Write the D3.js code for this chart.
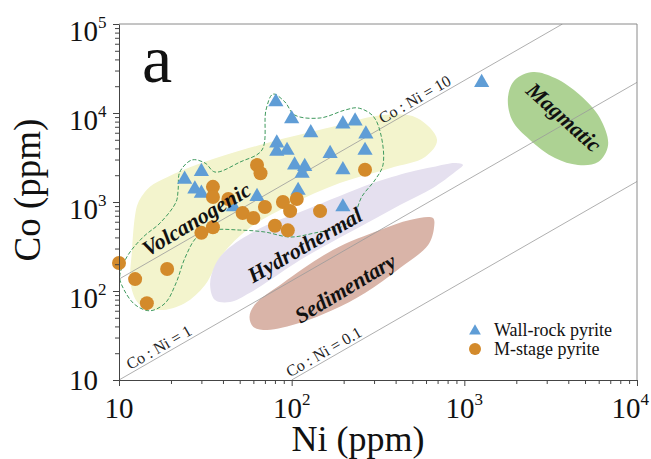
<!DOCTYPE html>
<html>
<head>
<meta charset="utf-8">
<script src="https://cdnjs.cloudflare.com/ajax/libs/d3/7.8.5/d3.min.js"></script>
<style>
  body { margin: 0; background: #fff; }
  svg { display: block; font-family: "Liberation Serif", "Times New Roman", serif; }
</style>
</head>
<body>
<svg id="chart" width="651" height="459"></svg>
<script>
// all values are [Ni, Co] in ppm
const wallRockPyrite = [
  [81, 13300], [100, 8600], [129, 6000], [198, 7500], [233, 8100], [269, 5800],
  [82, 4600], [82, 3700], [94, 3800], [167, 3500], [266, 3800], [104, 2600],
  [119, 2500], [115, 2100], [198, 2300], [24, 1800], [30, 2200], [27.5, 1400],
  [30, 1250], [63, 1150], [46, 880], [109, 1350], [198, 880], [1260, 22000]
];

const mStagePyrite = [
  [63, 2600], [66, 2100], [35, 1480], [35, 1140], [43, 1080], [52, 750],
  [60, 660], [70, 880], [89, 1000], [107, 1080], [98, 790], [80, 540],
  [95, 480], [30, 450], [35, 520], [10, 206], [12.4, 136], [19, 177],
  [14.5, 73], [146, 790], [266, 2300]
];

// outlines of the genetic fields
const volcanogenicField = [
  [12.4, 714], [12.9, 975], [15.1, 1480], [19, 1900], [29.4, 2700], [72, 4600],
  [173, 7000], [338, 9500], [532, 8800], [695, 5000], [592, 3200], [371, 2400],
  [190, 1630], [98, 925], [57, 510], [39.5, 254], [31.5, 117], [24, 73],
  [17.3, 61], [13.2, 70], [11.7, 117], [11.9, 290]
];
const hydrothermalField = [
  [33.7, 117], [36, 196], [42, 289], [66, 510], [112, 773], [190, 1170],
  [296, 1630], [484, 2170], [658, 2470], [883, 2740], [982, 2610], [883, 2170],
  [658, 1440], [424, 925], [273, 580], [167, 346], [112, 223], [75, 133],
  [57, 95], [44, 75], [36, 79]
];
const sedimentaryField = [
  [57, 51], [61, 70], [89, 123], [173, 289], [325, 484], [484, 628], [658, 661],
  [667, 511], [617, 329], [424, 181], [266, 95], [173, 61], [112, 44],
  [72, 36.5], [60, 39.5]
];
const magmaticField = [
  [1790, 15100], [1960, 23500], [2500, 28900], [3350, 24700], [4670, 15900],
  [6100, 8800], [6800, 4370], [5950, 2810], [4550, 2610], [3350, 3120],
  [2400, 4980], [1890, 8340]
];
// dashed envelope round the wall-rock and M-stage data
const dataEnvelope = [
  [22, 1365], [22.5, 2170], [26.5, 2970], [31.5, 2740], [36, 2170], [50.2, 2810],
  [67.3, 3840], [71, 10800], [78, 16300], [91.4, 13300], [104, 9500], [146, 8790],
  [204, 10800], [242, 11400], [296, 9250], [329, 5660], [338, 2610], [304, 1770],
  [255, 1150], [232, 740], [200, 540], [136, 449], [98, 404], [70, 460],
  [50, 484], [35, 484], [28.3, 404], [24.1, 235], [21.4, 123], [18.5, 73],
  [15.1, 60], [12.4, 70], [10.7, 103], [10.1, 144], [11.1, 241], [13.8, 404],
  [17.3, 581], [21.4, 1000]
];

const fieldNames = ['Volcanogenic', 'Hydrothermal', 'Sedimentary', 'Magmatic'];
const fieldLabelAt = [[28, 645], [119, 330], [204, 108], [3780, 9000]];

const ratioNames = ['Co : Ni = 10', 'Co : Ni = 1', 'Co : Ni = 0.1'];
const ratioLines = [
  [[10, 136], [3700, 100000]],
  [[10, 10], [10000, 22100]],
  [[100, 10], [10000, 1700]]
];
const ratioLabelNi = [546, 18, 162];

const xTickValues = [10, 100, 1000, 10000];
const yTickValues = [10, 100, 1000, 10000, 100000];

const margin = { top: 24, right: 14, bottom: 79, left: 119 };
const width = 651 - margin.left - margin.right;
const height = 459 - margin.top - margin.bottom;

const svg = d3.select('#chart');
const g = svg.append('g').attr('transform', 'translate(' + margin.left + ',' + margin.top + ')');

const x = d3.scaleLog().domain([10, 10000]).range([0, width]);
const y = d3.scaleLog().domain([10, 100000]).range([height, 0]);

svg.append('defs').append('clipPath').attr('id', 'plotClip')
  .append('rect').attr('width', width).attr('height', height);

const blob = d3.line()
  .x(d => x(d[0]))
  .y(d => y(d[1]))
  .curve(d3.curveCatmullRomClosed.alpha(0.5));

// fields
const fieldData = [volcanogenicField, hydrothermalField, sedimentaryField, magmaticField];
const fieldColors = ['#f3f4cd', '#e5e0ef', '#d9b4a8', '#add293'];
g.selectAll('path.field')
  .data(fieldData)
  .enter().append('path')
  .attr('class', 'field')
  .attr('d', blob)
  .attr('fill', (d, i) => fieldColors[i]);

// ratio lines
const lineGen = d3.line().x(d => x(d[0])).y(d => y(d[1]));
g.append('g').attr('clip-path', 'url(#plotClip)')
  .selectAll('path')
  .data(ratioLines)
  .enter().append('path')
  .attr('d', lineGen)
  .attr('fill', 'none')
  .attr('stroke', '#9a9a9a')
  .attr('stroke-width', 0.8);

ratioLines.forEach((pts, i) => {
  const x0 = x(pts[0][0]), y0 = y(pts[0][1]);
  const x1 = x(pts[1][0]), y1 = y(pts[1][1]);
  const angle = Math.atan2(y1 - y0, x1 - x0) * 180 / Math.PI;
  const lx = x(ratioLabelNi[i]);
  const ly = y0 + (y1 - y0) * (lx - x0) / (x1 - x0);
  g.append('text')
    .attr('transform', 'translate(' + lx + ',' + ly + ') rotate(' + angle + ')')
    .attr('y', -3)
    .attr('text-anchor', 'middle')
    .style('font-size', '16px')
    .attr('fill', '#222')
    .text(ratioNames[i]);
});

// envelope
g.append('path')
  .datum(dataEnvelope)
  .attr('d', blob)
  .attr('fill', 'none')
  .attr('stroke', '#3f9a5e')
  .attr('stroke-width', 1)
  .attr('stroke-dasharray', '4,2');

// points
const tri = d3.symbol().type(d3.symbolTriangle).size(100);
g.selectAll('path.wall')
  .data(wallRockPyrite)
  .enter().append('path')
  .attr('class', 'wall')
  .attr('d', tri)
  .attr('transform', d => 'translate(' + x(d[0]) + ',' + y(d[1]) + ')')
  .attr('fill', '#5f9dd6');

g.selectAll('circle.mstage')
  .data(mStagePyrite)
  .enter().append('circle')
  .attr('class', 'mstage')
  .attr('cx', d => x(d[0]))
  .attr('cy', d => y(d[1]))
  .attr('r', 7)
  .attr('fill', '#d38a2b');

// field labels
const fieldAngles = [-31, -30, -31, 42];
g.selectAll('text.field')
  .data(fieldNames)
  .enter().append('text')
  .attr('class', 'field')
  .attr('transform', (d, i) => 'translate(' + x(fieldLabelAt[i][0]) + ',' + y(fieldLabelAt[i][1]) + ') rotate(' + fieldAngles[i] + ')')
  .attr('dy', '0.35em')
  .attr('text-anchor', 'middle')
  .style('font-size', '22px')
  .style('font-weight', 'bold')
  .style('font-style', 'italic')
  .attr('fill', '#111')
  .text(d => d);

// axes
const minorTicks = (lo, hi) => {
  const out = [];
  for (let e = lo; e < hi; e++) for (let m = 2; m <= 9; m++) out.push(m * Math.pow(10, e));
  return out;
};

g.append('g')
  .attr('transform', 'translate(0,' + height + ')')
  .call(d3.axisBottom(x).tickValues(xTickValues).tickFormat('').tickSize(6).tickSizeOuter(0))
  .call(a => a.append('g').call(d3.axisBottom(x).tickValues(minorTicks(1, 4)).tickFormat('').tickSize(4).tickSizeOuter(0)))
  .selectAll('path, line').attr('stroke', '#444');

g.append('g')
  .call(d3.axisLeft(y).tickValues(yTickValues).tickFormat('').tickSize(6).tickSizeOuter(0))
  .call(a => a.append('g').call(d3.axisLeft(y).tickValues(minorTicks(1, 5)).tickFormat('').tickSize(4).tickSizeOuter(0)))
  .selectAll('path, line').attr('stroke', '#444');

// top and right frame
g.append('path')
  .attr('d', 'M0,0H' + width + 'V' + height)
  .attr('fill', 'none')
  .attr('stroke', '#8a8a8a')
  .attr('stroke-width', 1);

// tick labels
xTickValues.forEach(v => {
  const e = Math.round(Math.log10(v));
  const t = g.append('text')
    .attr('x', x(v))
    .attr('y', height + 38)
    .attr('text-anchor', 'middle')
    .style('font-size', '29px')
    .attr('fill', '#111')
    .text('10');
  if (e > 1) t.append('tspan').attr('dy', -13).style('font-size', '17px').text(e);
  // keep the last label inside the picture
  const right = margin.left + x(v) + t.node().getComputedTextLength() / 2;
  if (right > 649) t.attr('x', x(v) - (right - 649));
});

yTickValues.forEach(v => {
  const e = Math.round(Math.log10(v));
  const t = g.append('text')
    .attr('x', -50)
    .attr('y', y(v) + (e > 1 ? 17 : 10))
    .style('font-size', '29px')
    .attr('fill', '#111')
    .text('10');
  if (e > 1) t.append('tspan').attr('dy', -13).style('font-size', '17px').text(e);
});

// axis titles
svg.append('text')
  .attr('x', 358)
  .attr('y', 451)
  .attr('text-anchor', 'middle')
  .style('font-size', '36px')
  .attr('fill', '#111')
  .text('Ni (ppm)');

svg.append('text')
  .attr('transform', 'translate(40,190) rotate(-90)')
  .attr('text-anchor', 'middle')
  .style('font-size', '37px')
  .attr('fill', '#111')
  .text('Co (ppm)');

// panel letter
svg.append('text')
  .attr('x', 142)
  .attr('y', 82)
  .style('font-size', '68px')
  .attr('fill', '#111')
  .text('a');

// legend
const legend = svg.append('g');
legend.append('path')
  .attr('d', d3.symbol().type(d3.symbolTriangle).size(60))
  .attr('transform', 'translate(475,331)')
  .attr('fill', '#5f9dd6');
legend.append('circle')
  .attr('cx', 475).attr('cy', 349).attr('r', 6)
  .attr('fill', '#d38a2b');
legend.append('text').attr('x', 494).attr('y', 336)
  .style('font-size', '18px').attr('fill', '#111').text('Wall-rock pyrite');
legend.append('text').attr('x', 494).attr('y', 355)
  .style('font-size', '18px').attr('fill', '#111').text('M-stage pyrite');
</script>
</body>
</html>
